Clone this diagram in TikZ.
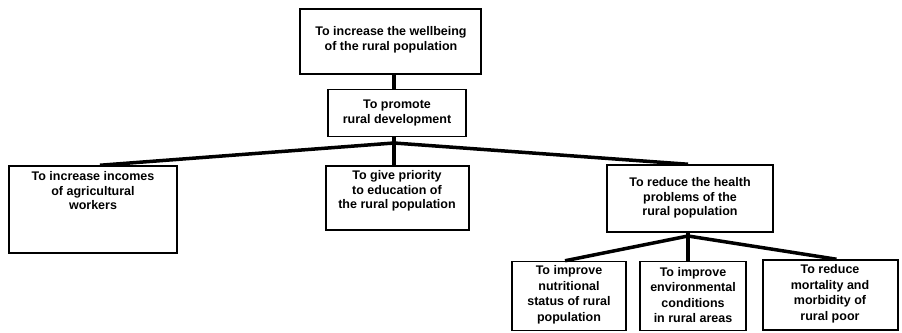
\documentclass[tikz,border=0pt]{standalone}
\usepackage{fontspec}
\setmainfont{Liberation Sans}
\begin{document}
\begin{tikzpicture}[x=1pt,y=-1pt,
  boxst/.style={draw, line width=1.5pt, inner sep=0pt},
  txt/.style={align=center, inner sep=0pt, font=\bfseries\fontsize{12.5}{14.5}\selectfont},
  txtb/.style={align=center, inner sep=0pt, font=\bfseries\fontsize{12.5}{15.5}\selectfont},
  conn/.style={line width=3.5pt}]
\useasboundingbox (0,0) rectangle (902,332);
% boxes
\node[boxst, minimum width=181pt, minimum height=65pt] (top) at (390.5,41.5) {};
\node[boxst, minimum width=138pt, minimum height=47pt] (prom) at (397,113) {};
\node[boxst, minimum width=168pt, minimum height=87pt] (inc) at (93,209.5) {};
\node[boxst, minimum width=143pt, minimum height=64pt] (edu) at (397.5,198) {};
\node[boxst, minimum width=166pt, minimum height=67pt] (hea) at (690,198.5) {};
\node[boxst, minimum width=114pt, minimum height=69pt] (nut) at (569,296) {};
\node[boxst, minimum width=106pt, minimum height=69pt] (env) at (693,296) {};
\node[boxst, minimum width=135pt, minimum height=70pt] (mor) at (830.5,295) {};
% texts
\node[txt] (topT) at (391,40) {To increase the wellbeing\\of the rural population};
\node[txt] (promT) at (397,113) {To promote\\rural development};
\node[txt] (incT) at (93,191) {To increase incomes\\of agricultural\\workers};
\node[txt] (eduT) at (397,191) {To give priority\\to education of\\the rural population};
\node[txt] (heaT) at (690,198) {To reduce the health\\problems of the\\rural population};
\node[txtb] (nutT) at (569,295) {To improve\\nutritional\\status of rural\\population};
\node[txtb] (envT) at (693,295) {To improve\\environmental\\conditions\\in rural areas};
\node[txtb] (morT) at (830,294) {To reduce\\mortality and\\morbidity of\\rural poor};
% connectors
\coordinate (j1) at (394,143);
\coordinate (j2) at (688,236);
\draw[conn] (top.south -| j1) -- (prom.north -| j1);
\draw[conn] (prom.south -| j1) -- (j1);
\draw[conn] (j1) -- ([xshift=7pt]inc.north);
\draw[conn] (j1) -- (edu.north -| j1);
\draw[conn] (j1) -- (hea.north -| j2);
\draw[conn] (hea.south -| j2) -- (j2);
\draw[conn] (j2) -- ([xshift=-4pt]nut.north);
\draw[conn] (j2) -- (env.north -| j2);
\draw[conn] (j2) -- ([xshift=6pt]mor.north);
\end{tikzpicture}
\end{document}
